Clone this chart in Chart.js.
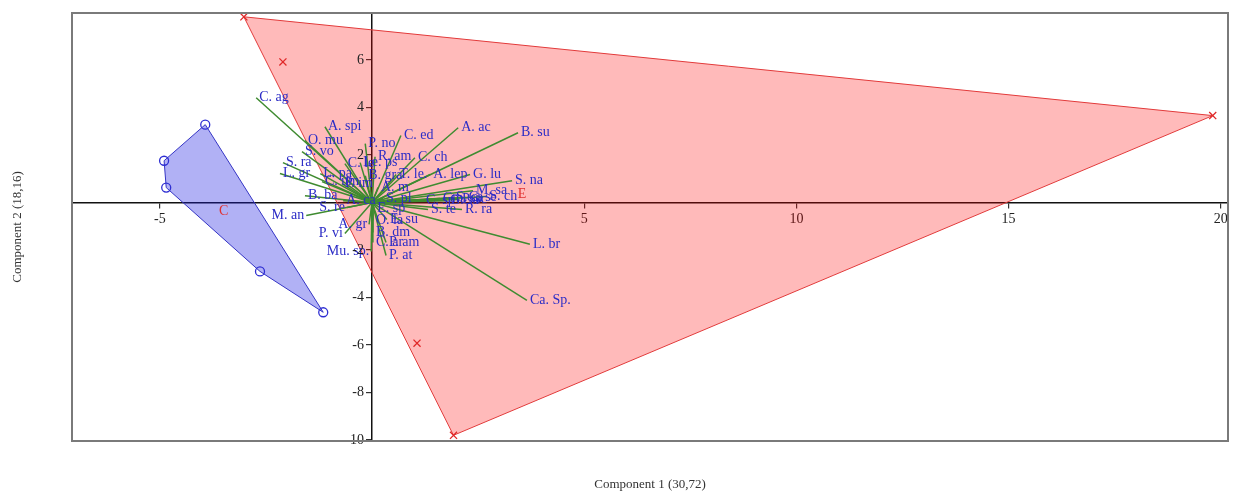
<!DOCTYPE html>
<html>
<head>
<meta charset="utf-8">
<script src="https://cdn.jsdelivr.net/npm/chart.js@4.4.1/dist/chart.umd.min.js"></script>
<style>
  html, body { margin: 0; padding: 0; background: #fff; }
  #wrap { width: 1239px; height: 492px; position: relative; }
</style>
</head>
<body>
<div id="wrap"><canvas id="biplot"></canvas></div>
<script>
// Variable loadings (biplot vector tips) on components 1 and 2
const variableNames = [
  'C. ag', 'A. spi', 'O. mu', 'S. vo', 'P. no', 'C. ed', 'A. ac', 'B. su',
  'R. am', 'C. ch', 'S. ra', 'L. gr', 'L. pa', 'C. le', 'Le. ps', 'C. um',
  'P. im', 'B. ba', 'B. gra', 'A. ca', 'T. le.', 'A. lep', 'G. lu', 'S. na',
  'S. pl', 'C. sp', 'Cm. sa', 'G. sa', 'S. ca', 'P. sc', 'M. sa', 'C. se',
  'S. ch', 'S. te', 'R. ra', 'L. br', 'Ca. Sp.', 'M. an', 'S. re', 'P. vi',
  'Mu. sp.', 'A. gr', 'O. la', 'E. su', 'B. dm', 'C. ar', 'P. am', 'P. at',
  'A. m', 'E. sp'
];
const loadingsPC1 = [
  -2.73, -1.11, -1.58, -1.65, -0.16, 0.68, 2.03, 3.44,
  0.07, 1.01, -2.10, -2.17, -1.22, -0.64, -0.28, -1.18,
  -0.71, -1.58, -0.16, -0.68, 0.57, 1.37, 2.31, 3.30,
  0.26, 1.20, 1.60, 1.77, 1.91, 2.05, 2.38, 2.21,
  2.69, 1.32, 2.12, 3.72, 3.65, -1.55, -0.59, -0.64,
  -0.02, -0.07, 0.02, 0.35, 0.02, 0.02, 0.33, 0.33,
  0.14, 0.05
];
const loadingsPC2 = [
  4.41, 3.19, 2.61, 2.14, 2.48, 2.82, 3.15, 2.94,
  1.93, 1.89, 1.68, 1.22, 1.22, 1.64, 1.68, 0.88,
  0.80, 0.29, 1.13, 0.08, 1.18, 1.18, 1.18, 0.92,
  0.17, 0.08, 0.17, 0.08, 0.21, 0.13, 0.50, 0.21,
  0.25, -0.29, -0.29, -1.76, -4.12, -0.55, -0.21, -1.30,
  -2.06, -0.92, -0.76, -0.71, -1.26, -1.68, -1.68, -2.23,
  0.63, -0.25
];

// Sample scores, group C
const groupCScore1 = [-3.93, -4.90, -4.85, -2.64, -1.15];
const groupCScore2 = [3.28, 1.76, 0.63, -2.90, -4.62];
// Sample scores, group E
const groupEScore1 = [-3.02, -2.10, 19.81, 1.92, 1.06];
const groupEScore2 = [7.82, 5.92, 3.66, -9.80, -5.92];

const xTickValues = [-5, 0, 5, 10, 15, 20];
const yTickValues = [-10, -8, -6, -4, -2, 0, 2, 4, 6];
const xAxisTitle = 'Component 1 (30,72)';
const yAxisTitle = 'Component 2 (18,16)';

const SERIF = "'Liberation Serif', 'Times New Roman', serif";

function toPoints(xs, ys) {
  return xs.map((x, i) => ({ x: x, y: ys[i] }));
}

// Convex hull (monotone chain), closed for drawing
function convexHull(pts) {
  const p = pts.slice().sort((a, b) => a.x - b.x || a.y - b.y);
  const cross = (o, a, b) => (a.x - o.x) * (b.y - o.y) - (a.y - o.y) * (b.x - o.x);
  const lower = [];
  for (const q of p) {
    while (lower.length >= 2 && cross(lower[lower.length - 2], lower[lower.length - 1], q) <= 0) lower.pop();
    lower.push(q);
  }
  const upper = [];
  for (let i = p.length - 1; i >= 0; i--) {
    const q = p[i];
    while (upper.length >= 2 && cross(upper[upper.length - 2], upper[upper.length - 1], q) <= 0) upper.pop();
    upper.push(q);
  }
  upper.pop(); lower.pop();
  const hull = lower.concat(upper);
  hull.push(hull[0]);
  return hull;
}

function mean(arr) { return arr.reduce((s, v) => s + v, 0) / arr.length; }

const pointsC = toPoints(groupCScore1, groupCScore2);
const pointsE = toPoints(groupEScore1, groupEScore2);

const groups = [
  { name: 'C', cx: mean(groupCScore1), cy: mean(groupCScore2) },
  { name: 'E', cx: mean(groupEScore1), cy: mean(groupEScore2) }
];

const datasets = [];

// group markers
datasets.push({
  label: 'E', data: pointsE, showLine: false,
  pointStyle: 'crossRot', pointRadius: 5, borderWidth: 1.3,
  borderColor: '#E02828', backgroundColor: '#E02828', order: 1
});
datasets.push({
  label: 'C', data: pointsC, showLine: false,
  pointStyle: 'circle', pointRadius: 4.5, borderWidth: 1.3,
  borderColor: '#2E2ED2', backgroundColor: 'rgba(0,0,0,0)', order: 1
});

// loading vectors from the origin
variableNames.forEach((name, i) => {
  datasets.push({
    label: name,
    data: [{ x: 0, y: 0 }, { x: loadingsPC1[i], y: loadingsPC2[i] }],
    showLine: true, pointRadius: 0, borderWidth: 1.5,
    borderColor: '#3F8B30', order: 5
  });
});

// convex hulls of the groups
datasets.push({
  label: 'hull E', data: convexHull(pointsE), showLine: true, fill: 'shape',
  backgroundColor: 'rgba(255,0,0,0.27)', borderColor: '#E23A3A', borderWidth: 1,
  pointRadius: 0, tension: 0, order: 10
});
datasets.push({
  label: 'hull C', data: convexHull(pointsC), showLine: true, fill: 'shape',
  backgroundColor: 'rgba(25,25,225,0.34)', borderColor: '#3434C4', borderWidth: 1,
  pointRadius: 0, tension: 0, order: 10
});

const tickLabel = v => (v === 0 ? '' : String(v));

const biplotText = {
  id: 'biplotText',
  afterDatasetsDraw(chart) {
    const { ctx, scales } = chart;
    ctx.save();
    ctx.font = '14px ' + SERIF;
    ctx.textBaseline = 'middle';
    ctx.fillStyle = '#2C2CC6';
    variableNames.forEach((name, i) => {
      const px = scales.x.getPixelForValue(loadingsPC1[i]);
      const py = scales.y.getPixelForValue(loadingsPC2[i]);
      if (loadingsPC1[i] < 0 && loadingsPC2[i] < 0) {
        ctx.textAlign = 'right';
        ctx.fillText(name, px - 2, py);
      } else {
        ctx.textAlign = 'left';
        ctx.fillText(name, px + 3, py);
      }
    });
    ctx.fillStyle = '#E03030';
    ctx.textAlign = 'center';
    groups.forEach(g => {
      ctx.fillText(g.name, scales.x.getPixelForValue(g.cx), scales.y.getPixelForValue(g.cy));
    });
    ctx.restore();
  },
  afterDraw(chart) {
    const { ctx, chartArea: a, scales } = chart;
    ctx.save();
    // vertical-axis tick labels, left of the axis line
    const axisX = scales.x.getPixelForValue(0);
    ctx.fillStyle = '#222';
    ctx.font = '14px ' + SERIF;
    ctx.textAlign = 'right';
    ctx.textBaseline = 'middle';
    scales.y.ticks.forEach(t => {
      ctx.fillText(tickLabel(t.value), axisX - 8, scales.y.getPixelForValue(t.value));
    });
    // frame
    ctx.strokeStyle = '#7A7A7A';
    ctx.lineWidth = 2;
    ctx.strokeRect(a.left, a.top, a.right - a.left, a.bottom - a.top);
    // axis titles
    ctx.fillStyle = '#333';
    ctx.font = '13px ' + SERIF;
    ctx.textAlign = 'center';
    ctx.fillText(xAxisTitle, (a.left + a.right) / 2, 485);
    ctx.translate(18, (a.top + a.bottom) / 2);
    ctx.rotate(-Math.PI / 2);
    ctx.fillText(yAxisTitle, 0, 0);
    ctx.restore();
  }
};

const tickFont = { family: SERIF, size: 14 };

new Chart(document.getElementById('biplot'), {
  type: 'scatter',
  data: { datasets: datasets },
  options: {
    responsive: true,
    maintainAspectRatio: false,
    animation: false,
    events: [],
    layout: { padding: { left: 72, top: 13, right: 11, bottom: 51 } },
    plugins: {
      legend: { display: false },
      tooltip: { enabled: false },
      title: { display: false }
    },
    scales: {
      x: {
        type: 'linear', min: -7.07, max: 20.17,
        position: { y: 0 }, z: 1,
        afterBuildTicks: axis => { axis.ticks = xTickValues.map(v => ({ value: v })); },
        ticks: {
          callback: tickLabel,
          font: tickFont, color: '#222', padding: 3, maxRotation: 0, autoSkip: false
        },
        grid: { drawOnChartArea: false, drawTicks: true, tickLength: 5, color: '#333', lineWidth: 1.2 },
        border: { display: true, color: '#111', width: 1.5 }
      },
      y: {
        type: 'linear', min: -10.04, max: 7.98,
        position: { x: 0 }, z: 1,
        afterBuildTicks: axis => { axis.ticks = yTickValues.map(v => ({ value: v })); },
        ticks: { display: false, autoSkip: false },
        grid: { drawOnChartArea: false, drawTicks: true, tickLength: 5, color: '#333', lineWidth: 1.2 },
        border: { display: true, color: '#111', width: 1.5 }
      }
    }
  },
  plugins: [biplotText]
});
</script>
</body>
</html>
